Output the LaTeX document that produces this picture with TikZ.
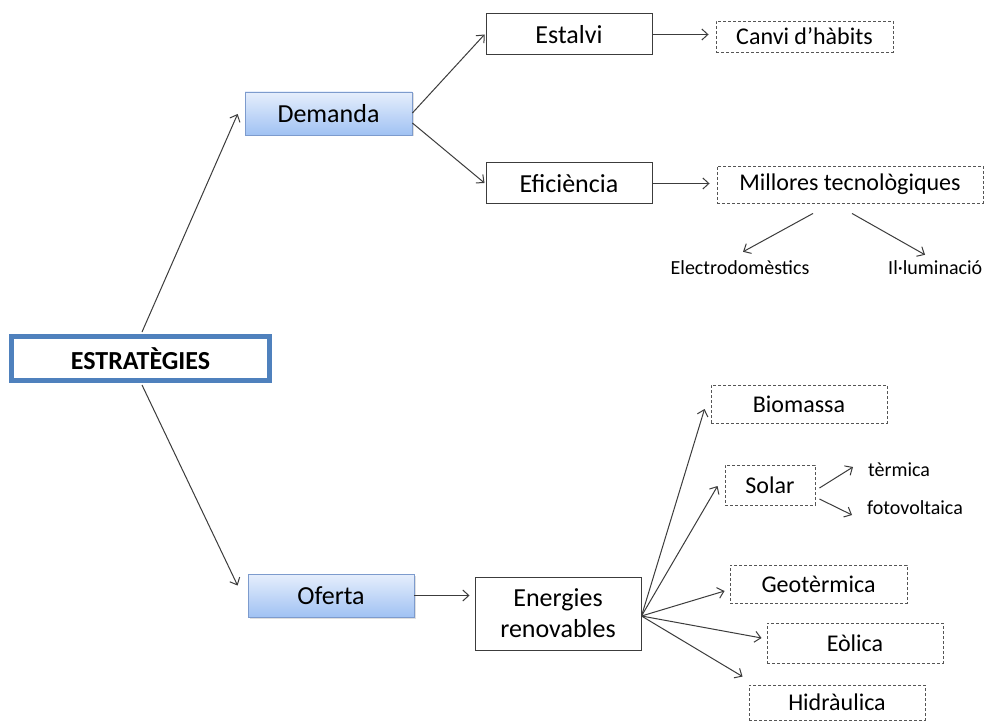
\documentclass[tikz,border=0pt]{standalone}
\usepackage{fontspec}
\setmainfont{Carlito}
\usetikzlibrary{arrows.meta,shadows}
\definecolor{estrblue}{RGB}{79,129,189}
\definecolor{gradtop}{RGB}{230,238,252}
\definecolor{gradbot}{RGB}{160,194,243}
\definecolor{gradline}{RGB}{125,155,205}
\definecolor{linegray}{RGB}{60,60,60}
\definecolor{dashgray}{RGB}{85,85,85}
\tikzset{
  bigtxt/.style={font=\fontsize{26}{31}\selectfont},
  midtxt/.style={font=\fontsize{24}{29}\selectfont},
  smalltxt/.style={font=\fontsize{20}{24}\selectfont, inner sep=0pt},
  estrbox/.style={draw=estrblue, line width=5pt, fill=white, inner sep=0pt,
    minimum width=258pt, minimum height=44pt, font=\bfseries\fontsize{26}{31}\selectfont},
  gradbox/.style={draw=gradline, line width=0.8pt, top color=gradtop, bottom color=gradbot,
    inner sep=0pt, minimum height=43pt, bigtxt,
    drop shadow={shadow xshift=1.5pt, shadow yshift=-1.5pt, opacity=0.25}},
  solidbox/.style={draw=linegray, line width=1pt, fill=white, inner sep=0pt, minimum width=166pt, bigtxt},
  dashbox/.style={draw=dashgray, line width=0.9pt, dash pattern=on 3pt off 2pt, inner sep=0pt, midtxt},
  arr/.style={draw=linegray, line width=1pt, -{Straight Barb[length=6pt,width=11pt]}}
}
\begin{document}
\begin{tikzpicture}[x=1pt,y=-1pt]
\useasboundingbox (0,0) rectangle (985,722);
\fill[white] (0,0) rectangle (985,722);

% nodes
\node[estrbox] (estr) at (140.5,358.5) {ESTRATÈGIES};
\node[gradbox, minimum width=167pt] (dem) at (328.5,113.5) {Demanda};
\node[gradbox, minimum width=166pt] (ofe) at (331,595.5) {Oferta};
\node[solidbox, minimum height=41pt] (est) at (569,34.5) {Estalvi};
\node[solidbox, minimum height=41pt] (efi) at (569,183.5) {Eficiència};
\node[dashbox, minimum width=177pt, minimum height=31pt] (canvi) at (804.5,36.5) {Canvi d’hàbits};
\node[dashbox, minimum width=266pt, minimum height=37pt] (mill) at (850,184.5) {Millores tecnològiques};
\node[smalltxt] (electro) at (740,268) {Electrodomèstics};
\node[smalltxt, anchor=west] (ilum) at (888,268) {Il·luminació};
\node[solidbox, minimum height=73pt, align=center] (ene) at (558,613.5) {Energies\\renovables};
\node[dashbox, minimum width=176pt, minimum height=38pt] (bio) at (799,404) {Biomassa};
\node[dashbox, minimum width=90pt, minimum height=40pt] (sol) at (770,485) {Solar};
\node[smalltxt, anchor=west] (term) at (868,470) {tèrmica};
\node[smalltxt, anchor=west] (fotov) at (867,508) {fotovoltaica};
\node[dashbox, minimum width=177pt, minimum height=38pt] (geo) at (818.5,584) {Geotèrmica};
\node[dashbox, minimum width=176pt, minimum height=40pt] (eol) at (855,643) {Eòlica};
\node[dashbox, minimum width=176pt, minimum height=35pt] (hid) at (837,702.5) {Hidràulica};

% connectors
\draw[arr] ([xshift=1.5pt,yshift=2pt]estr.north) -- ([xshift=-7pt,yshift=-0.5pt]dem.west);
\draw[arr] ([xshift=1.5pt,yshift=-2pt]estr.south) -- ([xshift=-10pt,yshift=10pt]ofe.west);
\draw[arr] ([yshift=0.5pt]dem.east) -- ([xshift=-1pt]est.west);
\draw[arr] ([yshift=-9.5pt]dem.east) -- ([xshift=-1pt,yshift=0.5pt]efi.west);
\draw[arr] (est.east) -- ([xshift=-7pt]est.east -| canvi.west);
\draw[arr] (efi.east) -- ([xshift=-7pt]efi.east -| mill.west);
\draw[arr] ([xshift=-37pt,yshift=-10pt]mill.south) -- ([xshift=3pt,yshift=9pt]electro.north);
\draw[arr] ([xshift=2pt,yshift=-10pt]mill.south) -- ([xshift=37pt,yshift=6pt]electro.north -| ilum.west);
\draw[arr] (ofe.east) -- ([xshift=-5pt]ofe.east -| ene.west);
\draw[arr] ([yshift=-2.5pt]ene.east) -- ([xshift=-6pt,yshift=-5pt]bio.west);
\draw[arr] ([yshift=-2.5pt]ene.east) -- ([xshift=-7pt,yshift=-1pt]sol.west);
\draw[arr] ([yshift=-2.5pt]ene.east) -- ([xshift=-5pt,yshift=-7pt]geo.west);
\draw[arr] ([yshift=-2.5pt]ene.east) -- ([xshift=-5pt,yshift=5pt]eol.west);
\draw[arr] ([yshift=-2.5pt]ene.east) -- ([xshift=-6pt,yshift=8pt]hid.north west);
\draw[arr] ([xshift=4pt,yshift=-3pt]sol.east) -- ([xshift=-15pt,yshift=3pt]term.west);
\draw[arr] ([xshift=4pt,yshift=-14pt]sol.east) -- ([xshift=-15pt,yshift=-7pt]fotov.west);
\end{tikzpicture}
\end{document}
